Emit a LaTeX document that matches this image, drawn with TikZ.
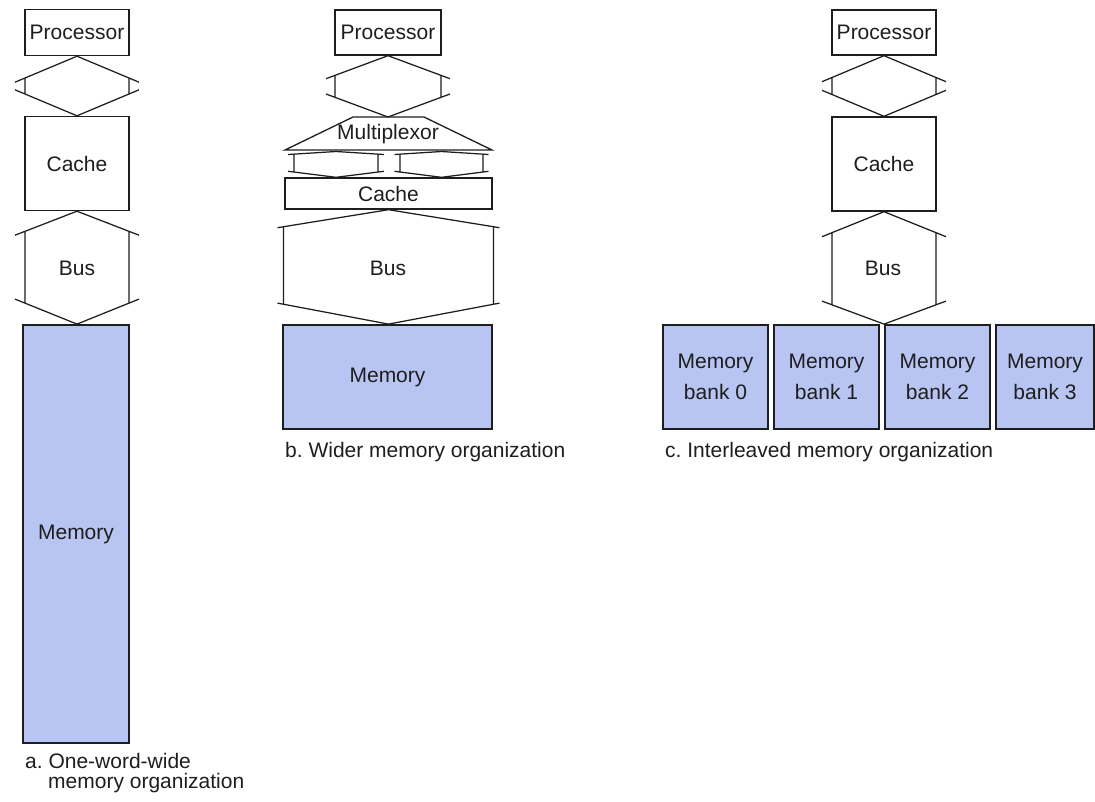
\documentclass[tikz,border=0pt]{standalone}
\usepackage{fontspec}
\setmainfont{Liberation Sans}
\frenchspacing
\usetikzlibrary{calc}
\definecolor{memfill}{RGB}{184,196,242}
\definecolor{ink}{RGB}{30,30,30}
\tikzset{
  box/.style={draw=ink, line width=1.4pt, fill=white, inner sep=0pt, text=ink,
    font=\fontsize{21}{24}\selectfont},
  membox/.style={box, fill=memfill, line width=1.8pt},
  bankbox/.style={membox, minimum width=105pt, minimum height=104pt, align=center,
    font=\fontsize{21}{31}\selectfont},
  busline/.style={draw=ink, line width=1.25pt},
  label/.style={text=ink, font=\fontsize{21}{24}\selectfont},
  captxt/.style={font=\fontsize{21}{21}\selectfont, text=ink, inner sep=0pt, anchor=base west}
}
% #1 top apex, #2 bottom apex, #3 shaft half width, #4 barb half width,
% #5 top head height, #6 bottom head height
\newcommand\busarrow[6]{%
  \draw[busline] ($(#1)+(-#4,#5)$) -- (#1) -- ($(#1)+(#4,#5)$)
    ($(#2)+(-#4,-#6)$) -- (#2) -- ($(#2)+(#4,-#6)$)
    ($(#1)+(-#3,{#5*#3/#4})$) -- ($(#2)+(-#3,{-#6*#3/#4})$)
    ($(#1)+(#3,{#5*#3/#4})$) -- ($(#2)+(#3,{-#6*#3/#4})$);}
\begin{document}
\begin{tikzpicture}[x=1pt, y=-1pt]
\useasboundingbox (0,0) rectangle (1095,801);
\fill[white] (0,0) rectangle (1095,801);

% ---------- a. one-word-wide ----------
\node[box, minimum width=104pt, minimum height=46pt] (procA) at (77,32.5) {Processor};
\node[box, minimum width=104pt, minimum height=94pt] (cacheA) at (77,163.5) {Cache};
\node[membox, minimum width=106pt, minimum height=418pt] (memA) at (76,534) {Memory};
\coordinate (a1t) at (procA.south);
\coordinate (a1b) at (procA.south |- cacheA.north);
\coordinate (a2t) at (cacheA.south);
\coordinate (a2b) at (cacheA.south |- memA.north);
\busarrow{a1t}{a1b}{52}{62}{26}{26}
\busarrow{a2t}{a2b}{52}{62}{24}{25}
\node[label] (busA) at (77,268) {Bus};
\node[captxt] (capA1) at (25,768) {a. One-word-wide};
\node[captxt] (capA2) at (48,788) {memory organization};

% ---------- b. wider ----------
\node[box, minimum width=106pt, minimum height=45pt] (procB) at (388,32.5) {Processor};
\coordinate (muxBL) at (285,150);
\coordinate (muxTL) at (353,117);
\coordinate (muxTR) at (424,117);
\coordinate (muxBR) at (492,150);
\draw[busline, line width=1.3pt] (muxBL) -- (muxTL) -- (muxTR) -- (muxBR) -- cycle;
\node[label] (mux) at (388,134) {Multiplexor};
\node[box, minimum width=207pt, minimum height=31pt] (cacheB) at (388.5,193.5) {Cache};
\node[membox, minimum width=209pt, minimum height=104pt] (memB) at (387.5,377) {Memory};
\coordinate (b1t) at (procB.south);
\coordinate (b1b) at (procB.south |- muxTL);
\busarrow{b1t}{b1b}{53}{62}{23}{23}
\coordinate (lbt) at (336,151.5);
\coordinate (lbb) at (lbt |- cacheB.north);
\busarrow{lbt}{lbb}{42}{48}{3}{6}
\coordinate (rbt) at (441.5,151.5);
\coordinate (rbb) at (rbt |- cacheB.north);
\busarrow{rbt}{rbb}{41.5}{47}{3}{6}
\coordinate (b2t) at (cacheB.south);
\coordinate (b2b) at (cacheB.south |- memB.north);
\busarrow{b2t}{b2b}{105}{111}{18}{21}
\node[label] (busB) at (388,268) {Bus};
\node[captxt] (capB) at (285,457) {b. Wider memory organization};

% ---------- c. interleaved ----------
\node[box, minimum width=104pt, minimum height=45pt] (procC) at (884,32.5) {Processor};
\node[box, minimum width=104pt, minimum height=94pt] (cacheC) at (884,164) {Cache};
\node[bankbox] (bank0) at (715.5,377) {Memory\\bank 0};
\node[bankbox] (bank1) at (826.5,377) {Memory\\bank 1};
\node[bankbox] (bank2) at (937.5,377) {Memory\\bank 2};
\node[bankbox, minimum width=98pt] (bank3) at (1045,377) {Memory\\bank 3};
\coordinate (c1t) at (procC.south);
\coordinate (c1b) at (procC.south |- cacheC.north);
\coordinate (c2t) at (cacheC.south);
\coordinate (c2b) at (cacheC.south |- bank1.north);
\busarrow{c1t}{c1b}{52}{62}{26}{26}
\busarrow{c2t}{c2b}{52}{62}{25}{23}
\node[label] (busC) at (883,268) {Bus};
\node[captxt] (capC) at (665,457) {c. Interleaved memory organization};
\end{tikzpicture}
\end{document}
